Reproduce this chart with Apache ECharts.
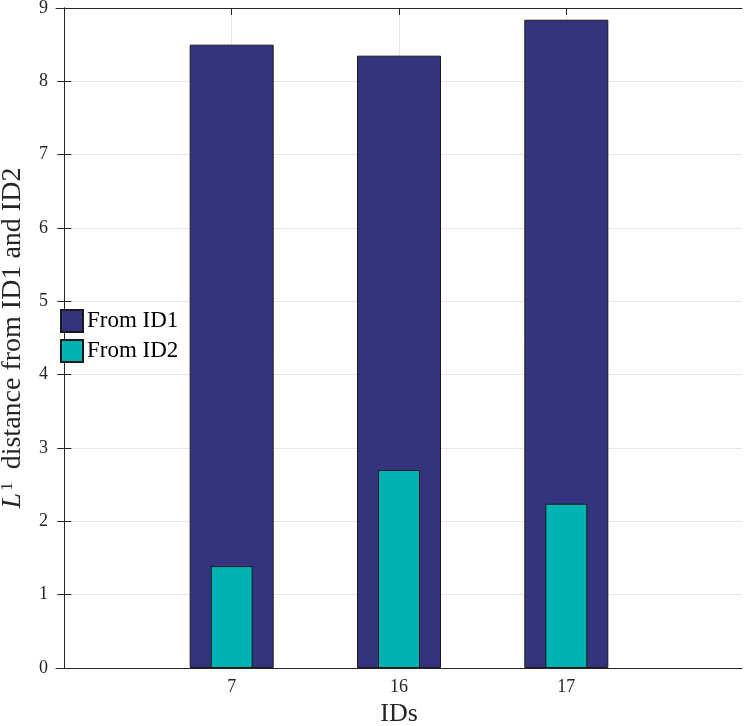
<!DOCTYPE html>
<html>
<head>
<meta charset="utf-8">
<script src="https://cdn.jsdelivr.net/npm/echarts@6/dist/echarts.min.js"></script>
<style>
html, body { margin: 0; padding: 0; background: #fff; }
#chart { width: 748px; height: 726px; }
</style>
</head>
<body>
<div id="chart"></div>
<script>
var ids = ['7', '16', '17'];
var fromId1 = [8.50, 8.35, 8.84];
var fromId2 = [1.39, 2.70, 2.24];
var yTicks = [0, 1, 2, 3, 4, 5, 6, 7, 8, 9];

var dom = document.getElementById('chart');
var myChart = echarts.init(dom);

var serif = 'Liberation Serif';
var ink = '#262626';
var pos = ids.map(function (d, i) { return i + 1; });

function pairs(vals) {
    return vals.map(function (v, i) { return [pos[i], v]; });
}

var xBase = {
    type: 'value',
    min: 1 - 1.05,
    max: ids.length + 1.05,
    axisLine: { show: true, onZero: false, lineStyle: { color: ink, width: 1 } },
    axisTick: { show: true, inside: true, length: 7, customValues: pos, lineStyle: { color: ink } },
    splitLine: { show: false }
};

var option = {
    animation: false,
    grid: { left: 56, right: 6, top: 8, bottom: 58, outerBoundsMode: 'none', containLabel: false },
    legend: {
        orient: 'vertical',
        left: 55,
        top: 304,
        itemWidth: 22,
        itemHeight: 22,
        itemGap: 6,
        icon: 'rect',
        textStyle: { fontFamily: serif, fontSize: 23, color: '#000', padding: [0, 0, 0, -1] },
        data: ['From ID1', 'From ID2']
    },
    xAxis: [
        Object.assign({}, xBase, {
            position: 'bottom',
            name: 'IDs',
            nameLocation: 'middle',
            nameGap: 33,
            nameTextStyle: { fontFamily: serif, fontSize: 26, color: ink },
            splitLine: { show: true, lineStyle: { color: '#e6e6e6', width: 1 } },
            axisLabel: {
                customValues: pos,
                margin: 10,
                fontFamily: serif,
                fontSize: 18,
                color: ink,
                formatter: function (v) { return ids[Math.round(v) - 1]; }
            }
        }),
        Object.assign({}, xBase, {
            position: 'top',
            axisLabel: { show: false }
        })
    ],
    yAxis: [
        {
            type: 'value',
            min: yTicks[0],
            max: yTicks[yTicks.length - 1],
            interval: 1,
            position: 'left',
            name: '{l|L}{s|1} distance from ID1 and ID2',
            nameLocation: 'middle',
            nameGap: 29,
            nameTextStyle: {
                fontFamily: serif,
                fontSize: 28,
                color: ink,
                rich: {
                    l: { fontFamily: serif, fontStyle: 'italic', fontSize: 28, color: ink },
                    s: { fontFamily: serif, fontSize: 17, color: ink, verticalAlign: 'top', padding: [0, 6, 4, 2] }
                }
            },
            axisLine: { show: true, lineStyle: { color: ink, width: 1 } },
            axisTick: { show: true, inside: true, length: 7, lineStyle: { color: ink } },
            axisLabel: { margin: 8, fontFamily: serif, fontSize: 18, color: ink },
            splitLine: { show: true, lineStyle: { color: '#e6e6e6', width: 1 } }
        },
        {
            type: 'value',
            min: yTicks[0],
            max: yTicks[yTicks.length - 1],
            interval: 1,
            position: 'right',
            axisLine: { show: true, lineStyle: { color: ink, width: 1 } },
            axisTick: { show: true, inside: true, length: 7, lineStyle: { color: ink } },
            axisLabel: { show: false },
            splitLine: { show: false }
        }
    ],
    series: [
        {
            name: 'From ID1',
            type: 'bar',
            xAxisIndex: 0,
            yAxisIndex: 0,
            barWidth: 84,
            data: pairs(fromId1),
            itemStyle: { color: '#34347e', borderColor: '#1a1a1a', borderWidth: 1 }
        },
        {
            name: 'From ID2',
            type: 'bar',
            xAxisIndex: 1,
            yAxisIndex: 0,
            barWidth: 42,
            data: pairs(fromId2),
            itemStyle: { color: '#00b3b3', borderColor: '#1a1a1a', borderWidth: 1 }
        }
    ]
};

if (option && typeof option === 'object') {
    myChart.setOption(option);
}
</script>
</body>
</html>
